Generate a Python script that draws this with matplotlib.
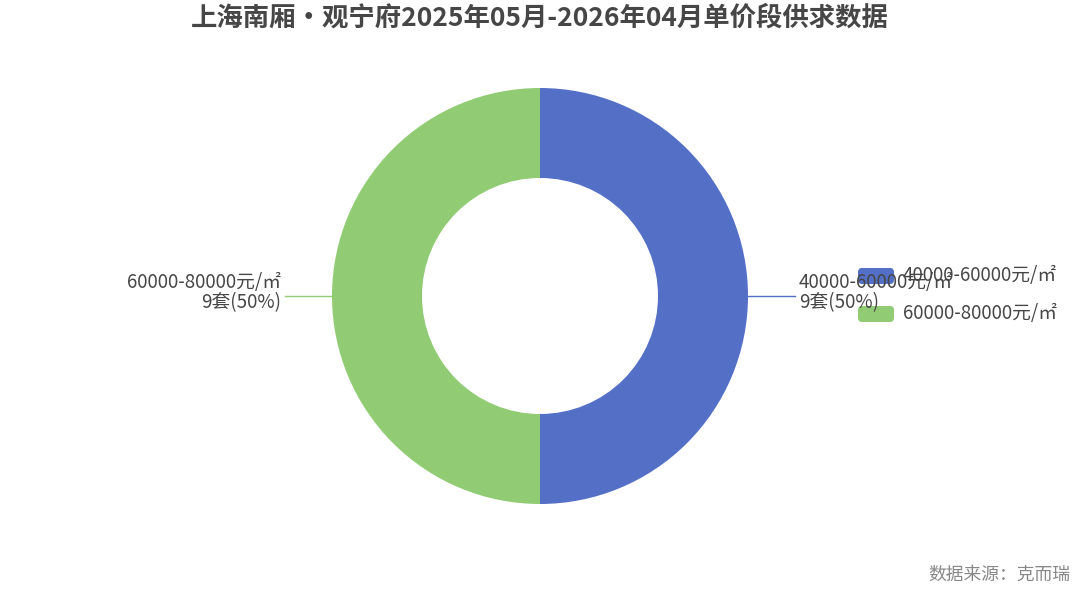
import matplotlib
matplotlib.use('Agg')
import matplotlib.pyplot as plt
from matplotlib.patches import FancyBboxPatch

plt.rcParams['font.family'] = ['Noto Sans CJK SC', 'DejaVu Sans']

# data
title = '上海南厢•观宁府2025年05月-2026年04月单价段供求数据'
categories = ['40000-60000元/㎡', '60000-80000元/㎡']
counts = [9, 9]
colors = ['#5470c6', '#91cc75']
source = '数据来源：克而瑞'

W, H = 1080, 593
fig = plt.figure(figsize=(W / 100, H / 100), dpi=100)
ax = fig.add_axes([0, 0, 1, 1])

cx, cy, r = 540, H - 296, 208
ax.pie(counts, colors=colors, startangle=90, counterclock=False,
       center=(cx, cy), radius=r, frame=True,
       wedgeprops=dict(width=90, linewidth=0))
ax.set_xlim(0, W)
ax.set_ylim(0, H)
ax.set_aspect('equal')
ax.axis('off')

total = sum(counts)
text_color = '#464646'
# labels with leader lines (right: first slice, left: second slice)
for i, (name, n) in enumerate(zip(categories, counts)):
    pct = n / total * 100
    label = f'{name}\n{n}套({pct:.0f}%)'
    if i == 0:
        ax.plot([cx + r, cx + r + 47], [cy, cy], color=colors[i], lw=1)
        ax.text(cx + r + 51, cy + 3, label, ha='left', va='center',
                fontsize=13.5, color=text_color, linespacing=0.95)
    else:
        ax.plot([cx - r, cx - r - 47], [cy, cy], color=colors[i], lw=1)
        ax.text(cx - r - 51, cy + 3, label, ha='right', va='center',
                multialignment='right', fontsize=13.5, color=text_color,
                linespacing=0.95)

# legend
for i, name in enumerate(categories):
    y = H - 276 - i * 38
    box = FancyBboxPatch((858, y - 8), 36, 16, boxstyle='round,pad=0,rounding_size=4',
                         facecolor=colors[i], edgecolor='none')
    ax.add_patch(box)
    ax.text(903, y, name, ha='left', va='center', fontsize=13.5, color=text_color)

fig.text(0.5, 1 - 18 / H, title, ha='center', va='center', fontsize=19,
         fontweight='bold', color=text_color)
fig.text(1070 / W, 1 - 575 / H, source, ha='right', va='center', fontsize=12.8,
         color='#888888')

fig.savefig('out.png', dpi=100)
